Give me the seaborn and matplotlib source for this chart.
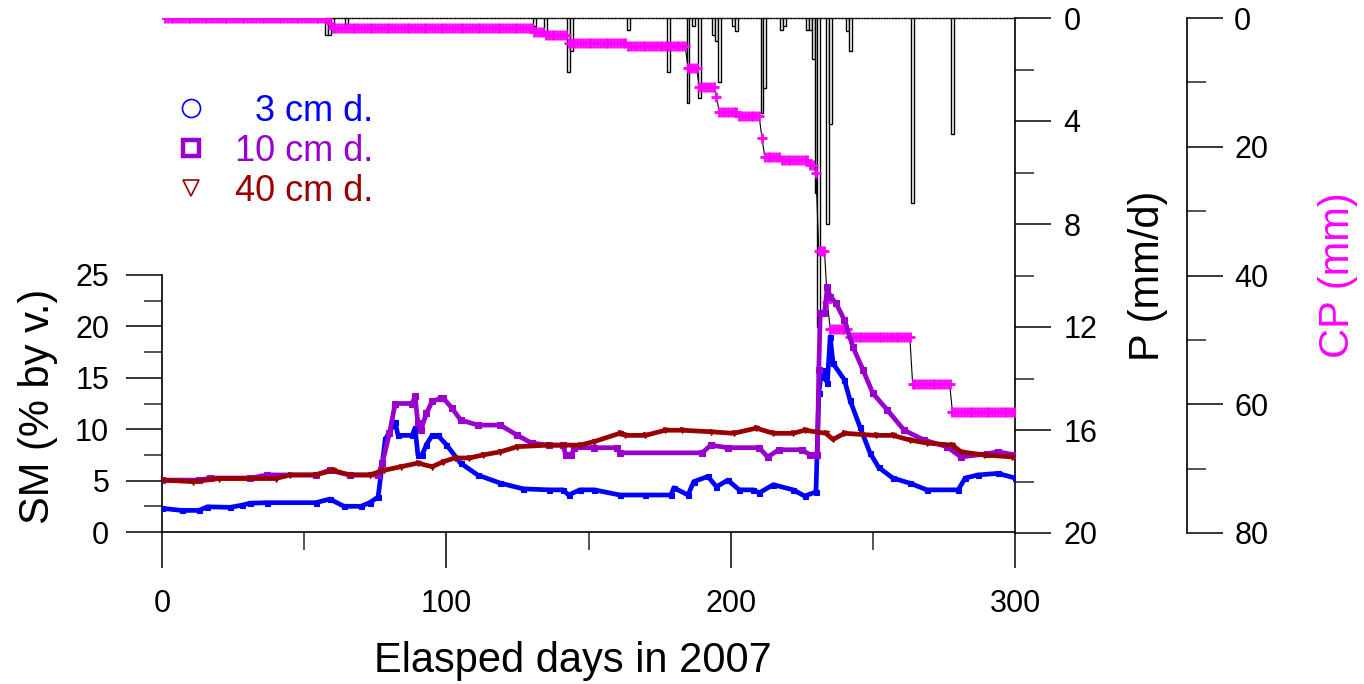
import numpy as np
import matplotlib
matplotlib.use("Agg")
import matplotlib.pyplot as plt
import seaborn as sns
from matplotlib.lines import Line2D
from matplotlib.ticker import MultipleLocator

# ---------------- data ----------------
# Daily precipitation P (mm/d): days with rain and their amounts
p_first_day = 58
p_last_day = 300
p_days = [58, 59, 60, 65, 131, 135, 143, 144, 164, 178, 185, 187, 189, 194, 195,
          196, 201, 202, 211, 212, 218, 219, 227, 228, 229, 230, 231, 234, 235,
          241, 242, 264, 278]
p_vals = [0.65, 0.65, 0.35, 0.25, 0.3, 0.6, 2.1, 1.3, 0.45, 2.1, 3.3, 0.3, 3.1,
          0.65, 0.9, 2.5, 0.3, 0.5, 3.7, 2.7, 0.45, 0.3, 0.45, 0.45, 1.6, 6.8,
          12.0, 8.0, 4.1, 0.5, 1.3, 7.2, 4.5]

# Cumulative precipitation CP (mm): level reached from each start day on
cp_start_days = [1, 59, 60, 131, 135, 143, 164, 185, 189, 195, 196, 203, 211, 212,
                 218, 228, 230, 231, 234, 235, 242, 264, 278]
cp_levels = [0.0, 0.8, 1.55, 2.1, 2.6, 3.9, 4.3, 7.8, 10.7, 12.2, 14.6, 15.2, 18.6,
             21.6, 22.05, 22.8, 24.1, 36.2, 44.1, 48.3, 49.5, 56.8, 61.2]
cp_last_day = 300

# Soil moisture (% by volume)
sm3_days = [0, 7, 13, 16, 24, 28, 31, 37, 54, 59, 64, 70, 73, 76, 77.5, 78.5, 82, 83,
            88, 89, 90, 91.5, 93, 95, 97, 100, 105, 111, 119, 127, 136, 141, 143,
            147, 152, 161, 170, 179, 180, 185, 187, 192, 195, 199, 203, 208, 210,
            215, 222, 226, 230, 231, 232, 233, 234, 235, 236, 240, 242, 245.5, 249,
            252, 257, 263, 269, 280, 282.5, 287, 294, 300]
sm3_vals = [2.3, 2.1, 2.1, 2.45, 2.4, 2.6, 2.8, 2.85, 2.85, 3.2, 2.5, 2.5, 2.85, 3.4,
            6.7, 9.0, 10.7, 9.4, 9.4, 10.1, 7.5, 7.5, 8.5, 9.4, 9.4, 8.5, 6.7, 5.55,
            4.75, 4.2, 4.1, 4.1, 3.6, 4.1, 4.1, 3.6, 3.6, 3.6, 4.3, 3.6, 4.9, 5.4,
            4.4, 5.05, 4.1, 4.1, 3.8, 4.6, 4.1, 3.5, 3.9, 13.5, 15.8, 15.1, 14.5,
            19.0, 16.4, 14.8, 12.8, 10.2, 7.7, 6.3, 5.25, 4.75, 4.1, 4.1, 5.25,
            5.55, 5.7, 5.25]

sm10_days = [0, 13, 17, 31, 37, 54, 59, 66, 76, 77.5, 80, 82, 88, 89, 90, 91, 93, 95,
             98, 99, 102, 105, 111, 119, 125, 130, 136, 141, 142, 144, 145, 152, 160,
             161, 190, 193, 199, 210, 213, 217, 225, 228, 230.5, 231, 231.5, 233,
             234, 235, 237, 240, 243, 246.5, 250, 255, 261, 268, 276, 281, 290,
             294, 300]
sm10_vals = [5.05, 5.05, 5.25, 5.25, 5.55, 5.55, 6.0, 5.55, 5.55, 6.7, 9.6, 12.5,
             12.5, 13.2, 10.6, 9.9, 11.55, 12.7, 13.0, 13.0, 12.05, 10.9, 10.4,
             10.4, 9.4, 8.65, 8.45, 8.45, 7.5, 7.5, 8.2, 8.2, 8.2, 7.7, 7.7, 8.45,
             8.2, 8.2, 7.3, 8.0, 8.0, 7.5, 7.5, 15.8, 21.3, 21.3, 23.8, 22.9, 22.3,
             20.6, 18.0, 15.8, 13.5, 11.9, 9.9, 8.95, 8.3, 7.3, 7.6, 7.8, 7.5]

sm40_days = [0, 11, 20, 40, 45, 54, 60, 66, 73, 78, 84, 90, 95, 99, 103, 108, 113,
             119, 125, 136, 147, 152, 161, 163, 170, 177, 183, 193, 201, 209, 215,
             222, 226, 233.5, 236, 240, 251, 257, 263, 269, 278, 281, 289, 299]
sm40_vals = [5.05, 4.9, 5.2, 5.2, 5.55, 5.55, 6.0, 5.55, 5.55, 6.0, 6.35, 6.7, 6.35,
             6.85, 7.2, 7.2, 7.5, 7.8, 8.3, 8.45, 8.45, 8.8, 9.6, 9.4, 9.4, 9.9, 9.9,
             9.75, 9.6, 10.1, 9.6, 9.6, 9.9, 9.6, 9.0, 9.6, 9.4, 9.4, 8.95, 8.65,
             8.45, 7.8, 7.5, 7.3]

legend_labels = ["  3 cm d.", "10 cm d.", "40 cm d."]
sm_colors = ["#0000FF", "#9900CC", "#990000"]
cp_color = "#FF00FF"

x_label = "Elasped days in 2007"
sm_label = "SM (% by v.)"
p_label = "P (mm/d)"
cp_label = "CP (mm)"

# ---------------- derived daily series ----------------
p_day_axis = np.arange(p_first_day, p_last_day + 1)
p_daily = np.zeros(len(p_day_axis))
p_daily[np.array(p_days) - p_first_day] = p_vals

cp_day_axis = np.arange(1, cp_last_day + 1)
cp_daily = np.array(cp_levels)[np.searchsorted(cp_start_days, cp_day_axis, side="right") - 1]

# ---------------- figure ----------------
sns.set_theme(style="white")
plt.rcParams["font.family"] = ["Liberation Sans", "DejaVu Sans"]

FW, FH = 1364, 684
fig = plt.figure(figsize=(FW / 100, FH / 100), dpi=100)
fig.patch.set_facecolor("white")

L = 162 / FW
W = (1015 - 162) / FW
ax_p = fig.add_axes([L, (FH - 533) / FH, W, (533 - 18) / FH])
ax_cp = ax_p.twinx()
ax_sm = fig.add_axes([L, (FH - 532) / FH, W, (532 - 275) / FH])
for a in (ax_p, ax_cp, ax_sm):
    a.patch.set_visible(False)

TICK_FS = 22
LABEL_FS = 30
MAJ_LEN, MIN_LEN, TW = 26, 13, 1.1

# --- precipitation bars (hanging from top) ---
ax_p.bar(p_day_axis, p_daily, width=1.0, color="white", edgecolor="black",
         linewidth=1.0, clip_on=False, zorder=2)
ax_p.set_xlim(0, 300)
ax_p.set_ylim(20, 0)
for s in ("left", "top", "bottom"):
    ax_p.spines[s].set_visible(False)
ax_p.spines["right"].set_visible(True)
ax_p.spines["right"].set_color("black")
ax_p.spines["right"].set_linewidth(1.2)
ax_p.set_xticks([])
ax_p.yaxis.tick_right()
ax_p.yaxis.set_major_locator(MultipleLocator(4))
ax_p.yaxis.set_minor_locator(MultipleLocator(2))
ax_p.tick_params(axis="y", which="major", direction="out", length=MAJ_LEN, width=TW,
                 labelsize=TICK_FS, pad=9, colors="black", right=True, left=False)
ax_p.tick_params(axis="y", which="minor", direction="out", length=14, width=TW,
                 right=True, left=False)
ax_p.set_ylabel(p_label, fontsize=LABEL_FS, color="black")
ax_p.yaxis.set_label_position("right")
ax_p.yaxis.set_label_coords((1148 - 162) / 853, 0.5)
ax_p.yaxis.label.set_va("center")

# --- cumulative precipitation ---
sns.lineplot(x=cp_day_axis, y=cp_daily, ax=ax_cp, color="black", linewidth=0.8,
             marker="+", markersize=7.5, markeredgecolor=cp_color,
             markeredgewidth=2.0, legend=False, zorder=3)
ax_cp.set_xlim(0, 300)
ax_cp.set_ylim(80, 0)
for s in ("left", "top", "bottom"):
    ax_cp.spines[s].set_visible(False)
ax_cp.spines["right"].set_visible(True)
ax_cp.spines["right"].set_position(("axes", (1187 - 162) / 853))
ax_cp.spines["right"].set_color("black")
ax_cp.spines["right"].set_linewidth(1.2)
ax_cp.yaxis.set_major_locator(MultipleLocator(20))
ax_cp.yaxis.set_minor_locator(MultipleLocator(10))
ax_cp.tick_params(axis="y", which="major", direction="out", length=MAJ_LEN, width=TW,
                  labelsize=TICK_FS, pad=8, colors="black", right=True, left=False)
ax_cp.tick_params(axis="y", which="minor", direction="out", length=14, width=TW,
                  right=True, left=False)
ax_cp.set_ylabel(cp_label, fontsize=LABEL_FS, color=cp_color)
ax_cp.yaxis.set_label_coords((1338 - 162) / 853, 0.5)
ax_cp.yaxis.label.set_va("center")
ax_cp.set_xlabel("")

# --- soil moisture ---
series = [(sm3_days, sm3_vals, "s", 3.6), (sm10_days, sm10_vals, "s", 4.4),
          (sm40_days, sm40_vals, "v", 3.6)]
for (d, v, m, ms), c in zip(series, sm_colors):
    sns.lineplot(x=d, y=v, ax=ax_sm, color=c, linewidth=3.4, marker=m,
                 markersize=ms, markeredgecolor=c, markerfacecolor=c,
                 markeredgewidth=0.8, legend=False, zorder=4)

ax_sm.set_xlim(0, 300)
ax_sm.set_ylim(0, 25)
for s in ("right", "top"):
    ax_sm.spines[s].set_visible(False)
for s in ("left", "bottom"):
    ax_sm.spines[s].set_visible(True)
    ax_sm.spines[s].set_color("black")
    ax_sm.spines[s].set_linewidth(1.2)
ax_sm.xaxis.set_major_locator(MultipleLocator(100))
ax_sm.xaxis.set_minor_locator(MultipleLocator(50))
ax_sm.yaxis.set_major_locator(MultipleLocator(5))
ax_sm.yaxis.set_minor_locator(MultipleLocator(2.5))
ax_sm.tick_params(axis="both", which="major", direction="out", length=MAJ_LEN,
                  width=TW, labelsize=TICK_FS, colors="black",
                  bottom=True, left=True)
ax_sm.tick_params(axis="x", which="major", pad=15)
ax_sm.tick_params(axis="y", which="major", pad=12)
ax_sm.tick_params(axis="both", which="minor", direction="out", length=MIN_LEN,
                  width=TW, bottom=True, left=True)
ax_sm.set_xlabel(x_label, fontsize=LABEL_FS, color="black")
ax_sm.xaxis.set_label_coords((573 - 162) / 853, (532 - 661) / 257)
ax_sm.xaxis.label.set_va("center")
ax_sm.set_ylabel(sm_label, fontsize=LABEL_FS, color="black")
ax_sm.yaxis.set_label_coords((38 - 162) / 853, 0.49)
ax_sm.yaxis.label.set_va("center")

# --- legend ---
handles = [
    Line2D([], [], linestyle="none", marker="o", markersize=13,
           markerfacecolor="none", markeredgecolor=sm_colors[0], markeredgewidth=1.2),
    Line2D([], [], linestyle="none", marker="s", markersize=11,
           markerfacecolor="none", markeredgecolor=sm_colors[1], markeredgewidth=3.2),
    Line2D([], [], linestyle="none", marker="v", markersize=12,
           markerfacecolor="none", markeredgecolor=sm_colors[2], markeredgewidth=1.2),
]
fig.legend(handles, legend_labels, loc="upper left",
           bbox_to_anchor=(175 / FW, 1 - 94 / FH), frameon=False,
           fontsize=26, handlelength=0.9, handletextpad=0.75, labelspacing=0.14,
           borderpad=0, borderaxespad=0, labelcolor=sm_colors)

fig.savefig("out.png", dpi=100, facecolor="white")
